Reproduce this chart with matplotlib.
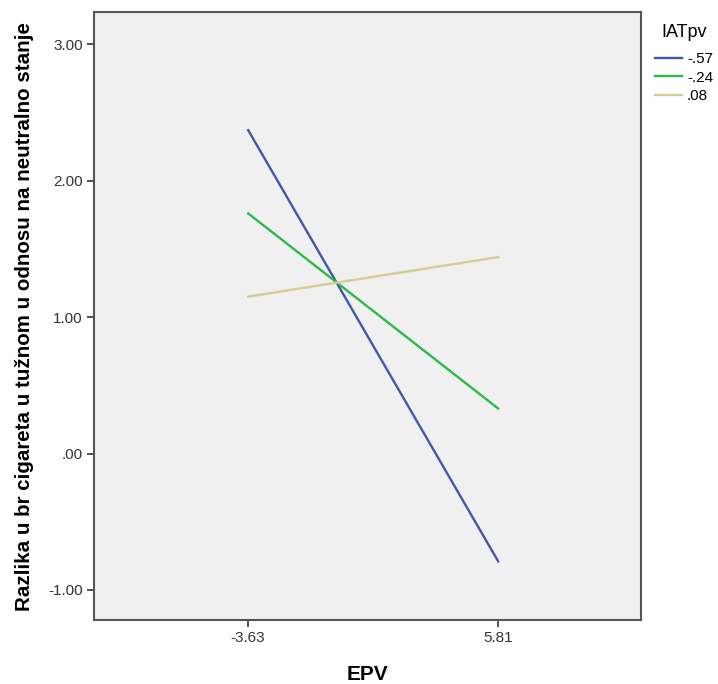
import matplotlib
matplotlib.use("Agg")
from matplotlib import pyplot as plt

plt.rcParams['font.family'] = ['Liberation Sans', 'DejaVu Sans']

epv = [-3.63, 5.81]
epv_labels = ['-3.63', '5.81']
groups = ['-.57', '-.24', '.08']
values = [
    [2.37, -0.79],
    [1.76, 0.33],
    [1.15, 1.44],
]
colors = ['#3E58AC', '#2EB848', '#D3CE97']

fig = plt.figure(figsize=(7.18, 6.84), dpi=100)
ax = fig.add_axes([0.131, 0.0936, 0.762, 0.8884])
ax.set_facecolor('#F0F0F0')

for g, v, c in zip(groups, values, colors):
    ax.plot(epv, v, color=c, lw=1.7, label=g)

ax.set_xlim(-9.45, 11.21)
ax.set_ylim(-1.22, 3.234)
ax.set_xticks(epv)
ax.set_xticklabels(epv_labels)
ax.set_yticks([-1, 0, 1, 2, 3])
ax.set_yticklabels(['-1.00', '.00', '1.00', '2.00', '3.00'])
ax.tick_params(labelsize=11, colors='#333333', length=5, width=1.2, pad=3)

for s in ax.spines.values():
    s.set_color('#555555')
    s.set_linewidth(1.5)

ax.set_xlabel('EPV', fontsize=15, fontweight='bold', labelpad=14)
ax.set_ylabel('Razlika u br cigareta u tužnom u odnosu na neutralno stanje',
              fontsize=14.8, fontweight='bold', labelpad=10)

leg = fig.legend(loc='upper left', bbox_to_anchor=(0.912, 0.965), frameon=False,
                 title='IATpv', fontsize=11, title_fontsize=13,
                 handlelength=1.8, handletextpad=0.3, labelspacing=0.3,
                 borderpad=0, borderaxespad=0, alignment='center')
leg._legend_box.sep = 8

fig.savefig('out.png', dpi=100)
